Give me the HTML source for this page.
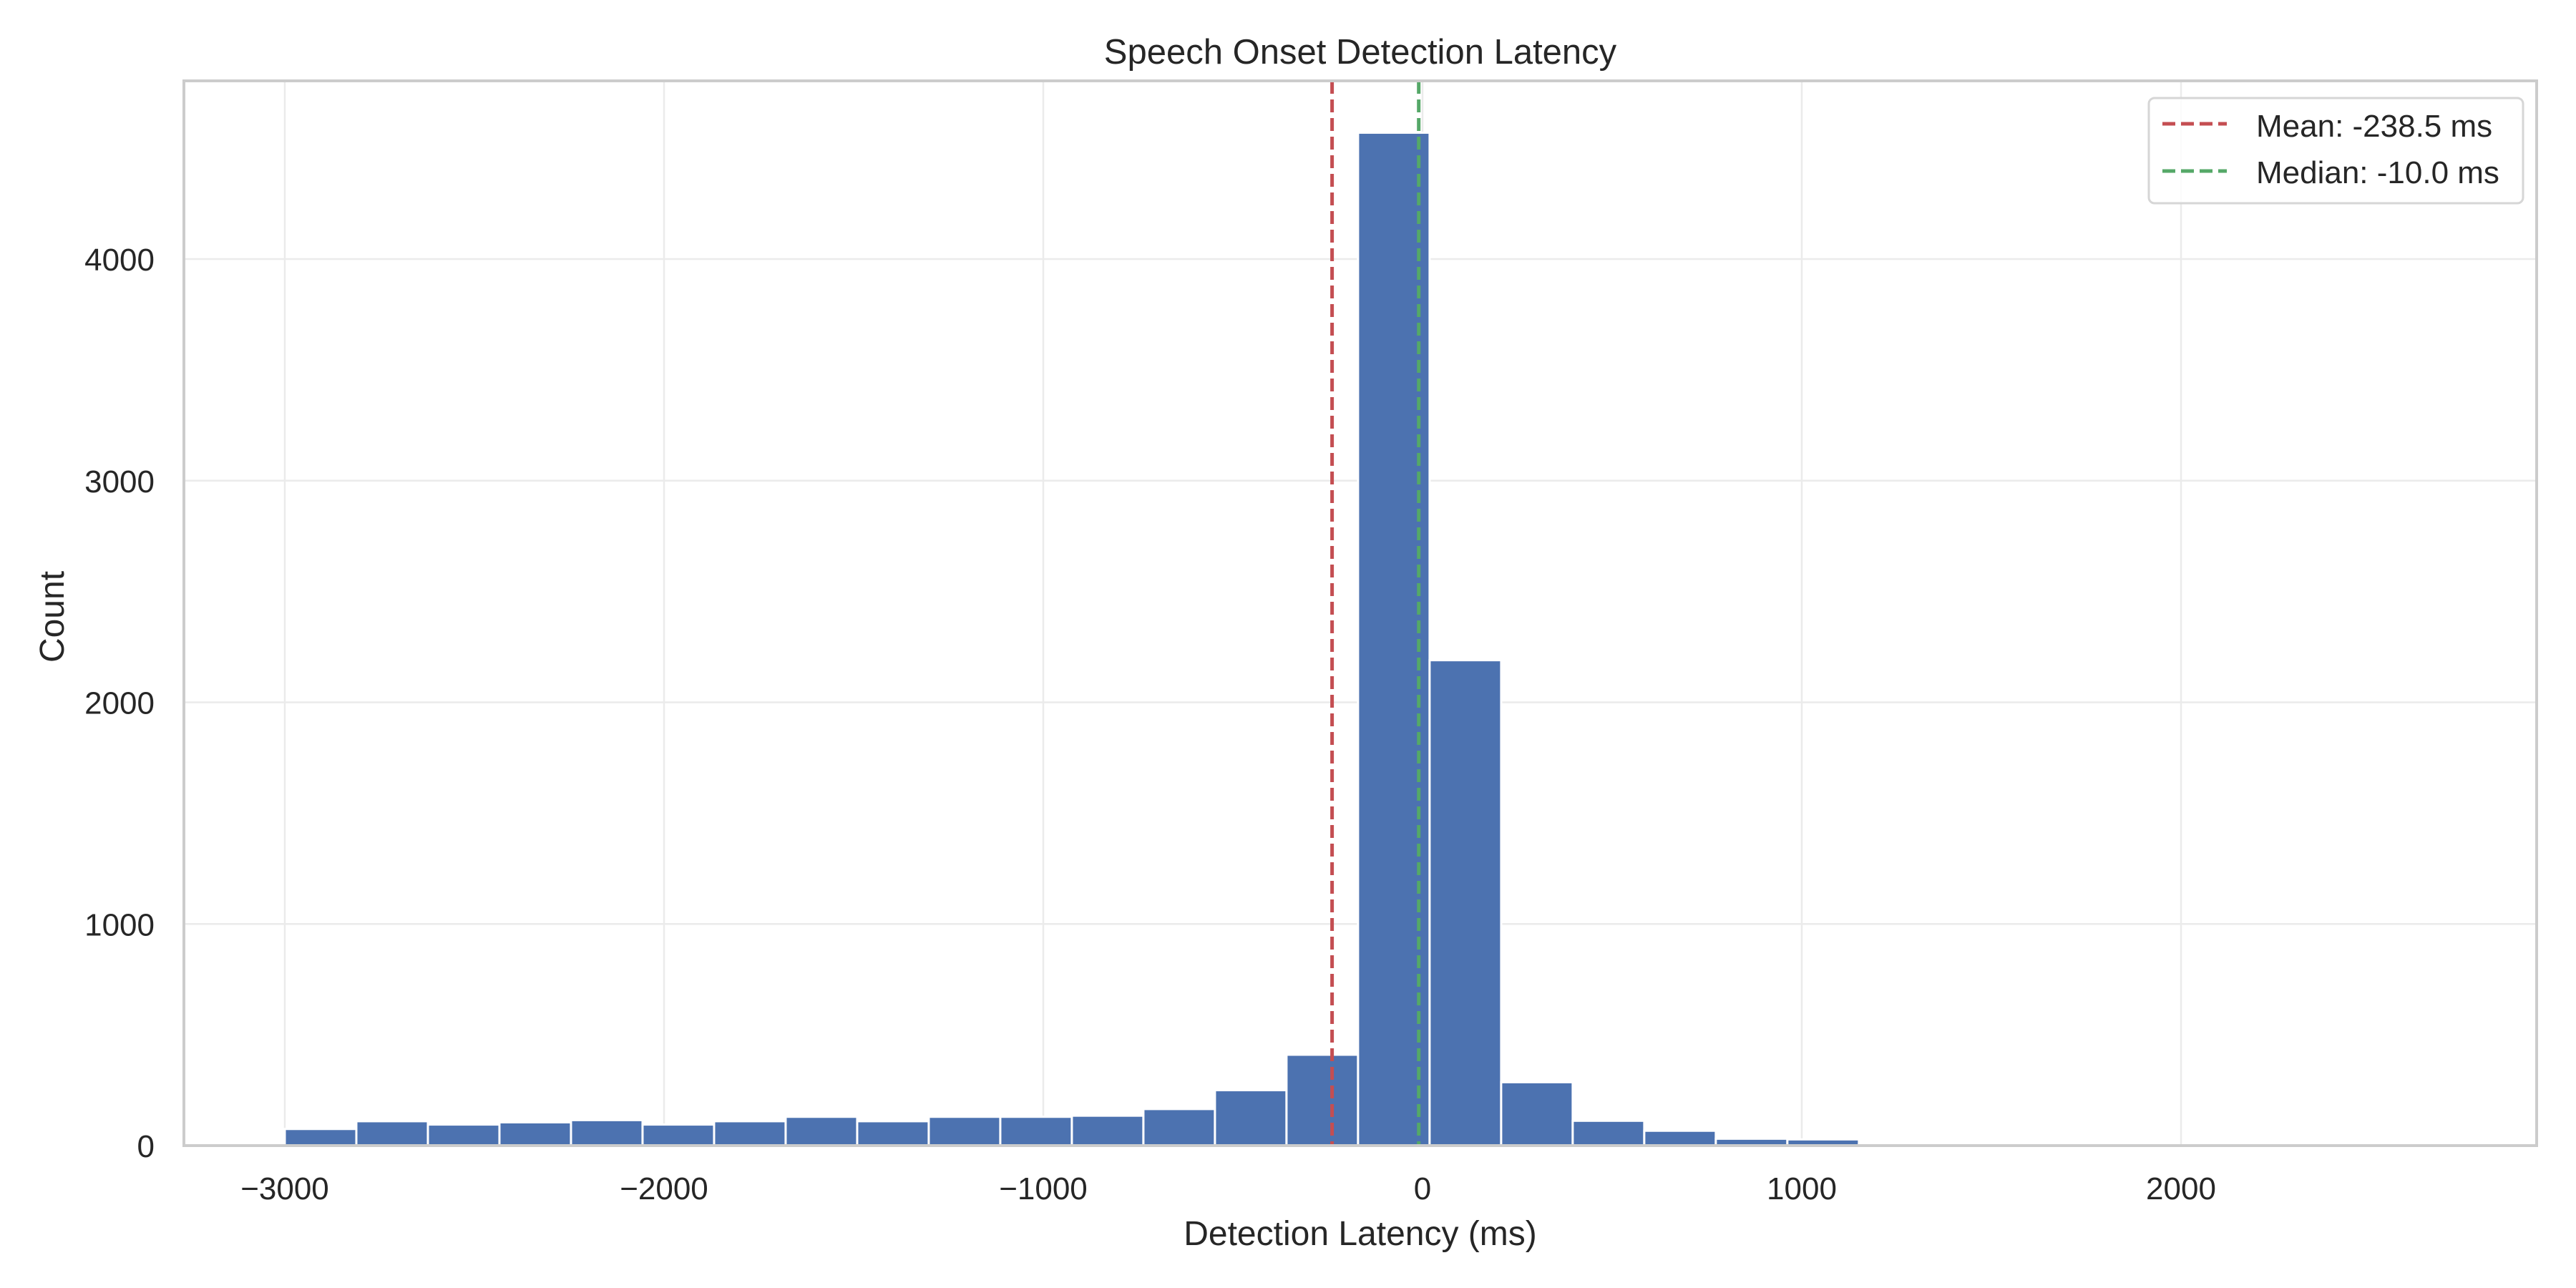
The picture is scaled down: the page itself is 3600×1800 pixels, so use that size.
<!DOCTYPE html>
<html><head><meta charset="utf-8"><style>
html,body{margin:0;padding:0;background:#fff;}
svg{display:block;font-family:"Liberation Sans",sans-serif;}
</style></head><body>
<svg id="chart" width="3600" height="1800" viewBox="0 0 3600 1800" xmlns="http://www.w3.org/2000/svg">
<rect x="0" y="0" width="3600" height="1800" fill="#fff"/>
<g id="grid"></g>
<g id="bars"></g>
<g id="refs"></g>
<rect x="257" y="113" width="3288" height="1488" fill="none" stroke="#cccccc" stroke-width="4"/>
<g id="ticks" font-size="44" fill="#262626"></g>
<text x="1901" y="89" font-size="49" text-anchor="middle" fill="#262626">Speech Onset Detection Latency</text>
<text x="1901" y="1740" font-size="48" text-anchor="middle" fill="#262626">Detection Latency (ms)</text>
<text x="0" y="0" font-size="48" text-anchor="middle" fill="#262626" transform="translate(89,862) rotate(-90)">Count</text>
<g>
<rect x="3003" y="137" width="523" height="147" rx="8" fill="#fff" fill-opacity="0.85" stroke="#d6d6d6" stroke-width="3"/>
<line x1="3022" y1="173" x2="3112" y2="173" stroke="#c44e52" stroke-width="5" stroke-dasharray="18,8"/>
<text x="3153" y="191" font-size="44" fill="#262626">Mean: -238.5 ms</text>
<line x1="3022" y1="239" x2="3112" y2="239" stroke="#55a868" stroke-width="5" stroke-dasharray="18,8"/>
<text x="3153" y="256" font-size="44" fill="#262626">Median: -10.0 ms</text>
</g>
</svg>
<script>
const binStart = -3000;
const binEnd = 2660;
const counts = [75,110,95,105,115,95,110,130,110,130,130,135,165,250,410,4570,2190,286,112,67,31,28,5,5,1,1,1,1,1,1];
const xTicks = [-3000,-2000,-1000,0,1000,2000];
const xTickLabels = ["\u22123000","\u22122000","\u22121000","0","1000","2000"];
const yTicks = [0,1000,2000,3000,4000];
const meanVal = -238.5;
const medianVal = -10.0;

const NS="http://www.w3.org/2000/svg";
const L=257,R=3545,T=113,B=1601;
function xs(v){return 1988+v*0.530;}
function ys(v){return B-v*0.30975;}
function mk(tag,attrs,parent){const e=document.createElementNS(NS,tag);for(const k in attrs)e.setAttribute(k,attrs[k]);parent.appendChild(e);return e;}
const grid=document.getElementById('grid'),bars=document.getElementById('bars'),refs=document.getElementById('refs'),ticks=document.getElementById('ticks');
xTicks.forEach((t,i)=>{
  const l=mk('line',{x1:xs(t),x2:xs(t),y1:T,y2:B,stroke:'#ebebeb','stroke-width':2.5},grid);
  
  
  const tx=mk('text',{x:xs(t),y:1676,'text-anchor':'middle'},ticks);
  tx.textContent=xTickLabels[i];
  
  
});
yTicks.forEach(t=>{
  const l=mk('line',{x1:L,x2:R,y1:ys(t),y2:ys(t),stroke:'#ebebeb','stroke-width':2.5},grid);
  
  
  const tx=mk('text',{x:216,y:ys(t)+16,'text-anchor':'end'},ticks);
  tx.textContent=String(t);
  
  
});
const w=(binEnd-binStart)/counts.length;
counts.forEach((c,i)=>{
  const x0=xs(binStart+i*w),x1=xs(binStart+(i+1)*w);
  const r=mk('rect',{x:x0,y:ys(c),width:x1-x0,height:B-ys(c),fill:'#4c72b0',stroke:'#fff','stroke-width':3},bars);
  
  
});
const m=mk('line',{x1:xs(meanVal),x2:xs(meanVal),y1:T,y2:B,stroke:'#c44e52','stroke-width':5,'stroke-dasharray':'18,8'},refs);


const md=mk('line',{x1:xs(medianVal),x2:xs(medianVal),y1:T,y2:B,stroke:'#55a868','stroke-width':5,'stroke-dasharray':'18,8'},refs);


</script>
</body></html>
